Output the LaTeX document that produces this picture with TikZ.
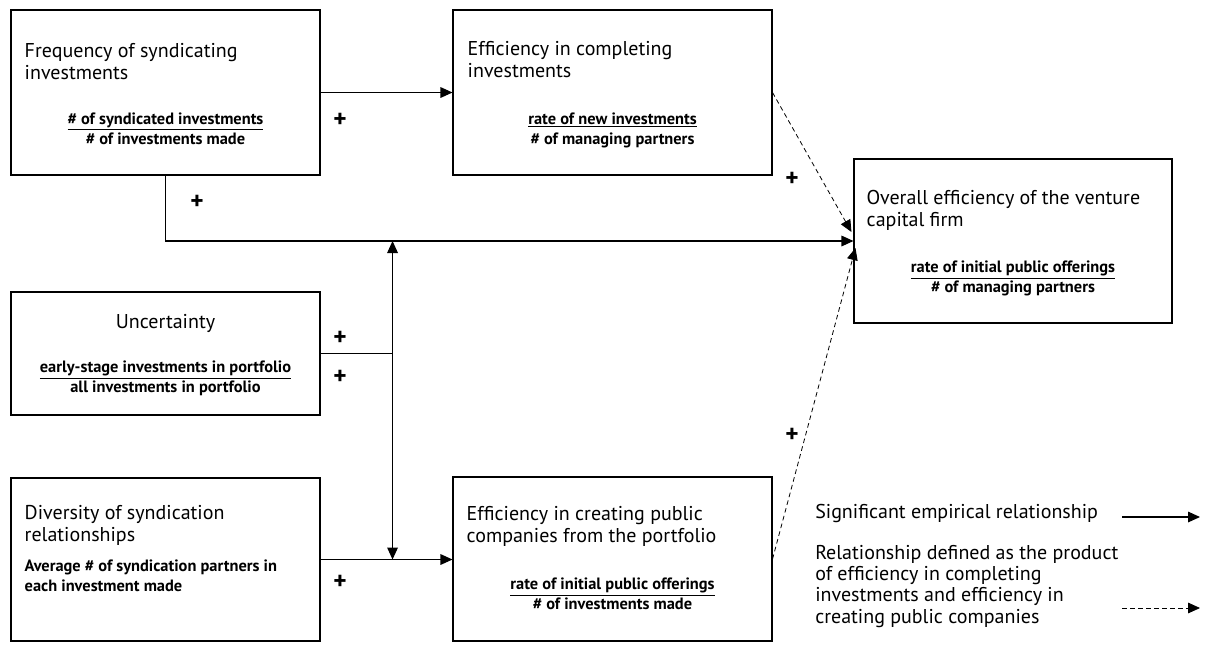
\documentclass[tikz,border=0pt]{standalone}
\usepackage{fontspec}
\setmainfont{PT Sans}
\usetikzlibrary{arrows.meta,calc}

\begin{document}
\begin{tikzpicture}[x=0.75pt,y=-0.75pt,
  box/.style={draw, line width=0.8pt, inner sep=0},
  head/.style={line width=0.8pt, -{Triangle[length=9pt,width=8pt]}},
  dashhead/.style={line width=0.6pt, dash pattern=on 3.5pt off 2.5pt, -{Triangle[length=9pt,width=8pt]}},
  title/.style={font=\fontsize{15}{16.5}\selectfont, align=left, anchor=base west, inner sep=0},
  measure/.style={font=\bfseries\fontsize{12.3}{15}\selectfont, align=center, anchor=base, inner sep=0},
  legend/.style={font=\fontsize{15}{16}\selectfont, align=left, anchor=base west, inner sep=0},
  plus/.style={font=\bfseries\fontsize{19}{19}\selectfont, inner sep=0}]
\useasboundingbox (0,0) rectangle (1207,644);

\node[box, minimum width=231.75pt, minimum height=123.75pt] (freq) at (165.5,92.5) {};
\node[box, minimum width=239.25pt, minimum height=123.75pt] (compl) at (612.5,92.5) {};
\node[box, minimum width=238.5pt, minimum height=123pt] (overall) at (1013,241) {};
\node[box, minimum width=231.75pt, minimum height=92.25pt] (uncert) at (165.5,353.5) {};
\node[box, minimum width=231.75pt, minimum height=122.25pt] (divers) at (165.5,559.5) {};
\node[box, minimum width=239.25pt, minimum height=123pt] (public) at (612.5,559) {};

\node[title] (freqT) at ([shift={(14,70)}]freq.north west) {Frequency of syndicating\\investments};
\node[measure] (freqM) at ([shift={(0,135)}]freq.north) {\underline{\# of syndicated investments}\\\# of investments made};
\node[title] (complT) at ([shift={(15,68)}]compl.north west) {Efficiency in completing\\investments};
\node[measure] (complM) at ([shift={(0,135)}]compl.north) {\underline{rate of new investments}\\\# of managing partners};
\node[title] (overallT) at ([shift={(13,68)}]overall.north west) {Overall efficiency of the venture\\capital firm};
\node[measure] (overallM) at ([shift={(0,134)}]overall.north) {\underline{rate of initial public offerings}\\\# of managing partners};
\node[title, anchor=base] (uncertT) at ([shift={(0,37)}]uncert.north) {Uncertainty};
\node[measure] (uncertM) at ([shift={(0,101)}]uncert.north) {\underline{early-stage investments in portfolio}\\all investments in portfolio};
\node[title] (diversT) at ([shift={(14,64)}]divers.north west) {Diversity of syndication\\relationships};
\node[measure, align=left, anchor=base west] (diversM) at ([shift={(14,114)}]divers.north west) {Average \# of syndication partners in\\each investment made};
\node[title] (publicT) at ([shift={(14,66)}]public.north west) {Efficiency in creating public\\companies from the portfolio};
\node[measure] (publicM) at ([shift={(0,133)}]public.north) {\underline{rate of initial public offerings}\\\# of investments made};

\coordinate (hub) at ($(uncert.east)+(72,0)$);
\draw[head] (freq.east) -- (compl.west);
\draw[head] (freq.south) |- (overall.west);
\draw[line width=0.8pt] (uncert.east) -- (hub);
\draw[head] (hub) -- (hub |- overall.west);
\draw[head] (hub) -- (hub |- divers.east);
\draw[head] (divers.east) -- (divers.east -| public.west);
\draw[dashhead] (compl.east) -- ($(overall.west)+(-2,-9)$);
\draw[dashhead] (public.east) -- ($(overall.west)+(2,7)$);

\node[plus] (p1) at (340,120) {+};
\node[plus] (p2) at (197,202) {+};
\node[plus] (p3) at (340,338) {+};
\node[plus] (p4) at (340,377) {+};
\node[plus] (p5) at (340,582) {+};
\node[plus] (p6) at (792,179) {+};
\node[plus] (p7) at (792,435) {+};

\node[legend] (sig) at (815,518) {Significant empirical relationship};
\node[legend] (prod) at (815,623) {Relationship defined as the product\\of efficiency in completing\\investments and efficiency in\\creating public companies};
\coordinate (sigA) at (1122,517);
\coordinate (sigB) at (1200,517);
\coordinate (prodA) at (1122,608);
\coordinate (prodB) at (1200,608);
\draw[head] (sigA) -- (sigB);
\draw[dashhead] (prodA) -- (prodB);
\end{tikzpicture}
\end{document}
